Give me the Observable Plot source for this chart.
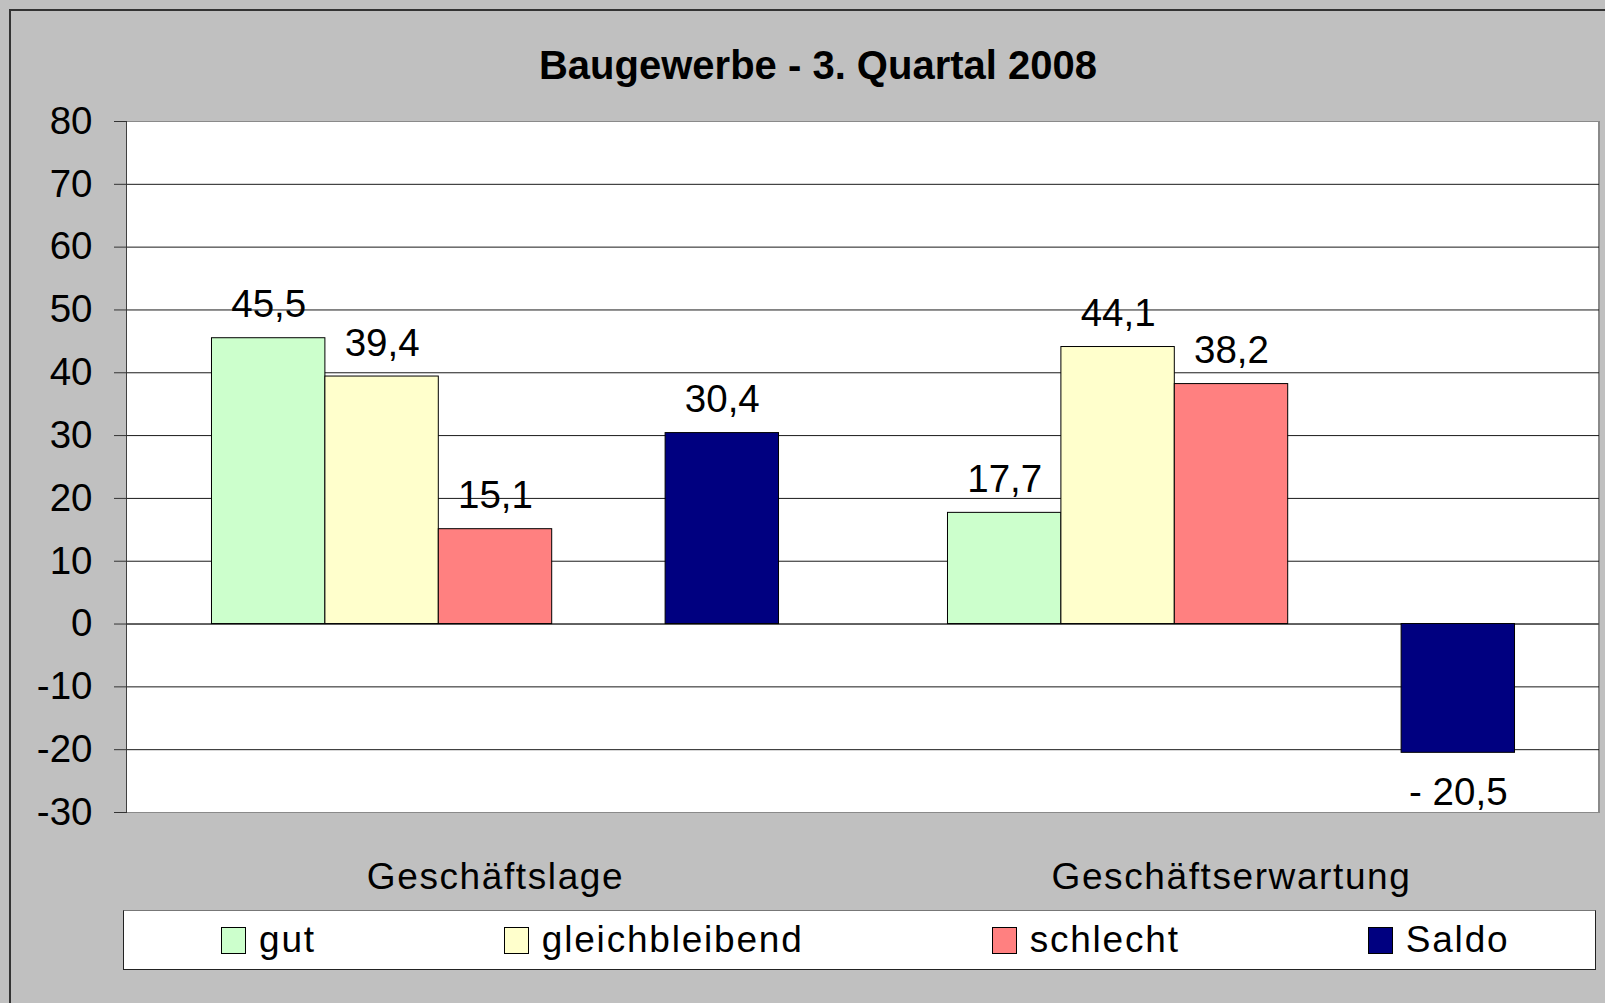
<!DOCTYPE html>
<html>
<head>
<meta charset="utf-8">
<script src="https://cdn.jsdelivr.net/npm/d3@7"></script>
<script src="https://cdn.jsdelivr.net/npm/@observablehq/plot@0.6"></script>
<style>
  html, body { margin: 0; padding: 0; background: #c0c0c0; overflow: hidden; }
  #wrap { position: relative; width: 1605px; height: 1003px; background: #c0c0c0; overflow: hidden;
          font-family: "Liberation Sans", Arial, sans-serif; }
  #outer { position: absolute; left: 9px; top: 9px; width: 1640px; height: 1040px; border: 2px solid #333; box-sizing: border-box; }
  #plotbg { position: absolute; background: #fff; box-sizing: border-box;
            border: 1px solid #8a8a8a; border-left: 1px solid #404040; border-right: 2px solid #8a8a8a; }
  #title { position: absolute; left: 0; width: 1636px; top: 45px; text-align: center; font-weight: bold;
           font-size: 40px; line-height: 1; color: #000; }
  #chart { position: absolute; left: 0; top: 0; }
  #chart svg g[aria-label="fx-axis tick label"] text { letter-spacing: 1.6px; }
  #legend { position: absolute; left: 123px; top: 910px; width: 1473px; height: 60px; box-sizing: border-box;
            background: #fff; border: 1px solid #222; border-top-color: #777; display: flex; align-items: center;
            justify-content: flex-start; gap: 188px; padding: 0 0 0 97px; }
  .item { display: flex; align-items: center; font-size: 37px; letter-spacing: 1.8px; color: #000; }
  .sw { width: 25px; height: 27px; border: 1px solid #000; box-sizing: border-box; margin-right: 13px; }
</style>
</head>
<body>
<div id="wrap">
  <div id="outer"></div>
  <div id="plotbg"></div>
  <div id="title"></div>
  <div id="chart"></div>
  <div id="legend"></div>
</div>
<script>
// ---- data ----
const title = "Baugewerbe - 3. Quartal 2008";
const categories = ["Geschäftslage", "Geschäftserwartung"];
const seriesNames = ["gut", "gleichbleibend", "schlecht", "Saldo"];
const gut = [45.5, 17.7];
const gleichbleibend = [39.4, 44.1];
const schlecht = [15.1, 38.2];
const saldo = [30.4, -20.5];
const yTicks = [-30, -20, -10, 0, 10, 20, 30, 40, 50, 60, 70, 80];
const seriesColors = ["#CCFFCC", "#FFFFCC", "#FF8080", "#000080"];

// ---- layout ----
const W = 1605, H = 910;
const ML = 126, MR = 6, MT = 121, MB = 98;

const valuesBySeries = [gut, gleichbleibend, schlecht, saldo];
const rows = [];
categories.forEach((c, i) => {
  seriesNames.forEach((s, j) => rows.push({category: c, series: s, value: valuesBySeries[j][i]}));
});
// slot layout inside each category: three bars, one empty slot, then Saldo
const slotDomain = ["gut", "gleichbleibend", "schlecht", "_gap", "Saldo"];

const fmt = v => (v < 0 ? "- " : "") + Math.abs(v).toFixed(1).replace(".", ",");

document.getElementById("title").textContent = title;
const bg = document.getElementById("plotbg");
bg.style.left = ML + "px"; bg.style.top = MT + "px";
bg.style.width = (W - ML - MR + 1) + "px"; bg.style.height = (H - MT - MB + 1) + "px";

const chart = Plot.plot({
  width: W, height: H,
  marginLeft: ML, marginRight: MR, marginTop: MT, marginBottom: MB,
  style: {background: "transparent", fontFamily: "Liberation Sans, Arial, sans-serif", color: "#000", overflow: "visible"},
  fx: {domain: categories, padding: 0, label: null},
  x: {domain: slotDomain, paddingInner: 0, paddingOuter: 0.745, round: false, axis: null},
  y: {domain: [-30, 80], label: null},
  color: {domain: seriesNames, range: seriesColors},
  marks: [
    Plot.gridY(yTicks.filter(t => t !== -30 && t !== 80), {stroke: "#1a1a1a", strokeOpacity: 1}),
    Plot.ruleY([0], {stroke: "#555", strokeWidth: 1.5}),
    Plot.axisY(yTicks, {tickSize: 13, tickPadding: 22, fontSize: 38.5, label: null, stroke: "#333",
      tickFormat: d => String(d)}),
    Plot.axisFx({anchor: "bottom", tickSize: 0, tickPadding: 50, fontSize: 37, label: null}),
    Plot.barY(rows, {fx: "category", x: "series", y: "value", fill: "series", stroke: "#000", strokeWidth: 1}),
    Plot.text(rows.filter(d => d.value >= 0), {fx: "category", x: "series", y: "value", text: d => fmt(d.value),
      lineAnchor: "bottom", dy: -21, fontSize: 38.5, fill: "#000"}),
    Plot.text(rows.filter(d => d.value < 0), {fx: "category", x: "series", y: "value", text: d => fmt(d.value),
      lineAnchor: "top", dy: 25, fontSize: 38.5, fill: "#000"})
  ]
});
document.getElementById("chart").appendChild(chart);

// legend
const legend = document.getElementById("legend");
seriesNames.forEach((s, i) => {
  const item = document.createElement("div");
  item.className = "item";
  const sw = document.createElement("div");
  sw.className = "sw";
  sw.style.background = seriesColors[i];
  const t = document.createElement("span");
  t.textContent = s;
  item.appendChild(sw); item.appendChild(t);
  legend.appendChild(item);
});
</script>
</body>
</html>
